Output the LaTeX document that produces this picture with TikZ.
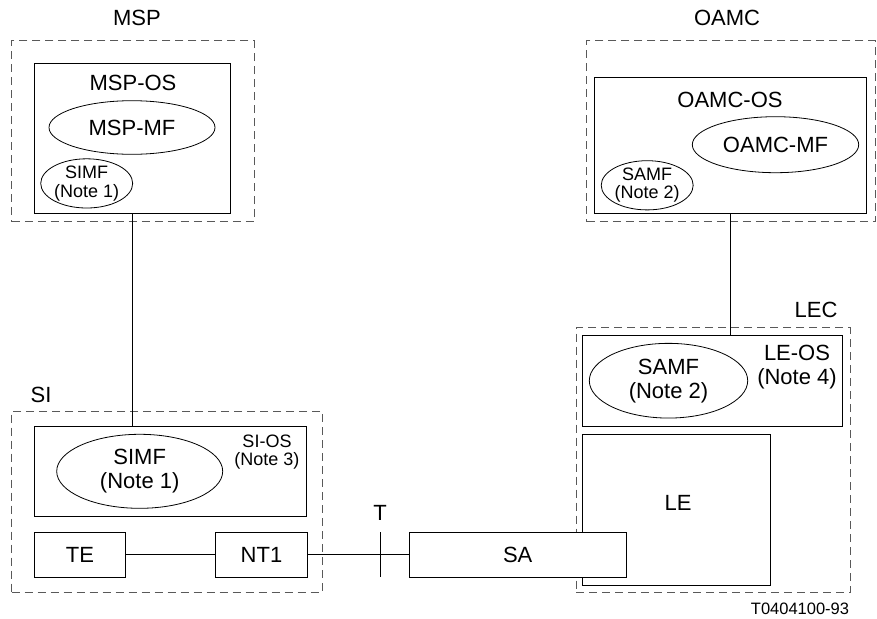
\documentclass[tikz,border=0pt]{standalone}
\usepackage{fontspec}
\setmainfont{Liberation Sans}
\usetikzlibrary{shapes.geometric}
\tikzset{
  big/.style={font=\fontsize{22}{24}\selectfont, align=center, inner sep=0pt},
  small/.style={font=\fontsize{18}{18.5}\selectfont, align=center, inner sep=0pt},
  dbox/.style={draw=black!65, dash pattern=on 8pt off 5pt, line width=0.8pt, inner sep=0pt},
  sbox/.style={draw, line width=0.9pt, inner sep=0pt},
  ell/.style={draw, ellipse, line width=0.8pt, inner sep=0pt},
  conn/.style={line width=0.9pt}
}
\begin{document}
\begin{tikzpicture}[x=1pt,y=-1pt]
\useasboundingbox (0,0) rectangle (877,618);
% dashed domains
\node[dbox, minimum width=242.3pt, minimum height=181pt] (msp) at (132.9,131.2) {};
\node[dbox, minimum width=288.3pt, minimum height=181pt] (oamc) at (730.9,131.2) {};
\node[dbox, minimum width=310.6pt, minimum height=181.3pt] (si) at (167,501.7) {};
\node[dbox, minimum width=274pt, minimum height=265pt] (lec) at (713,460.2) {};
% domain labels
\node[big] (msplbl) at (137,18) {MSP};
\node[big] (oamclbl) at (727,18) {OAMC};
\node[big] (silbl) at (41,395) {SI};
\node[big] (leclbl) at (816,310) {LEC};
% MSP
\node[sbox, minimum width=195.7pt, minimum height=150.4pt] (mspos) at (132.2,138.5) {};
\node[big] (msposlbl) at (133,83) {MSP-OS};
\node[ell, big, minimum width=166pt, minimum height=53.6pt] (mspmf) at (132,127.5) {MSP-MF};
\node[ell, small, minimum width=91pt, minimum height=45.3pt] (mspsimf) at (86.7,183.4) {SIMF\\(Note 1)};
% OAMC
\node[sbox, minimum width=272.7pt, minimum height=136pt] (oamcos) at (730.3,145.7) {};
\node[big] (oamcoslbl) at (730,100) {OAMC-OS};
\node[ell, big, minimum width=166.4pt, minimum height=56pt] (oamcmf) at (775.5,144.7) {OAMC-MF};
\node[ell, small, minimum width=91pt, minimum height=40.7pt] (oamcsamf) at (647.2,185.3) {SAMF\\(Note 2)};
% SI
\node[sbox, minimum width=272.4pt, minimum height=90.7pt] (sios) at (170.5,471.3) {};
\node[ell, big, minimum width=166pt, minimum height=74pt] (sisimf) at (139.7,471.3) {SIMF\\(Note 1)};
\node[small] (sioslbl) at (267,452) {SI-OS\\(Note 3)};
\node[sbox, big, minimum width=91.4pt, minimum height=45pt] (te) at (80,554.8) {TE};
\node[sbox, big, minimum width=91.6pt, minimum height=45pt] (nt1) at (261.5,554.8) {NT1};
% LEC
\node[sbox, minimum width=260.4pt, minimum height=90.7pt] (leos) at (712.5,380.7) {};
\node[ell, big, minimum width=158.4pt, minimum height=74.7pt] (lesamf) at (668.5,380.7) {SAMF\\(Note 2)};
\node[big] (leoslbl) at (797,367.5) {LE-OS\\(Note 4)};
\node[sbox, minimum width=188.4pt, minimum height=151pt] (le) at (676.5,509.5) {};
\node[big] (lelbl) at (678,503) {LE};
% SA on top
\node[sbox, fill=white, big, minimum width=217.3pt, minimum height=45pt] (sa) at (517.7,554.8) {SA};
% connectors
\draw[conn] (mspos.south) -- (mspos.south |- sios.north);
\draw[conn] (oamcos.south) -- (oamcos.south |- leos.north);
\draw[conn] (te.east) -- (nt1.west);
\draw[conn] (nt1.east) -- (sa.west);
\coordinate (ttop) at (380,532.3);
\coordinate (tbot) at (380,577.3);
\draw[conn] (ttop) -- (tbot);
\node[big] (tlbl) at (380,513) {T};
\node[small, font=\fontsize{16.5}{18}\selectfont] (fig) at (800,609) {T0404100-93};
\end{tikzpicture}
\end{document}
